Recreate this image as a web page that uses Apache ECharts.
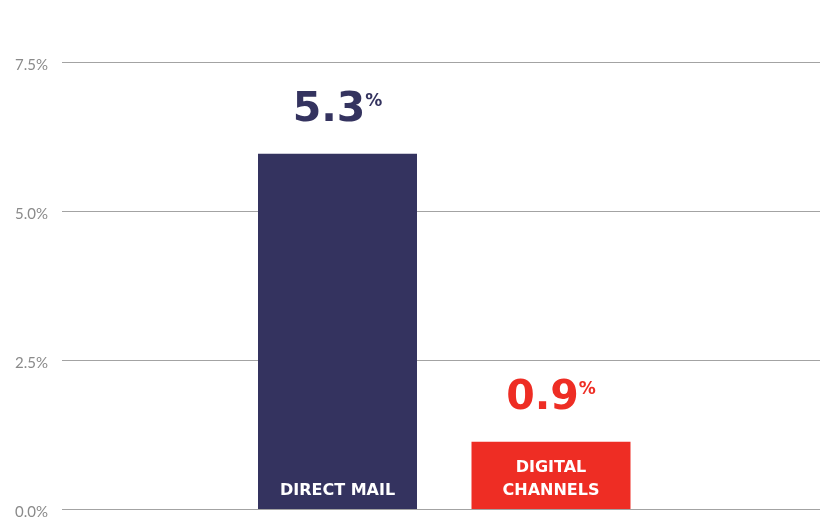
<!DOCTYPE html>
<html>
<head>
<meta charset="utf-8">
<script src="https://cdn.jsdelivr.net/npm/echarts@6/dist/echarts.min.js"></script>
<style>
  html, body { margin: 0; padding: 0; background: #fff; }
  #chart { width: 820px; height: 521px; }
</style>
</head>
<body>
<div id="chart"></div>
<script>
// categories and values
var channels = ['DIRECT MAIL', 'DIGITAL\nCHANNELS'];
var barHeights = [5.96, 1.13];      // drawn bar heights (%)
var rateLabels = ['5.3', '0.9'];    // printed response rates
var barColors = ['#34335f', '#ee2d24'];
var yTicks = [0, 2.5, 5.0, 7.5];

var myChart = echarts.init(document.getElementById('chart'));

var option = {
    animation: false,
    grid: [
        // gridlines + y labels
        { left: 62, right: 0, top: 62, bottom: 12 },
        // bars
        { left: 230.75, right: 162.25, top: 62, bottom: 12 }
    ],
    xAxis: [
        { gridIndex: 0, type: 'category', data: [''], show: false },
        {
            gridIndex: 1,
            type: 'category',
            data: channels,
            z: 10,
            axisLine: { show: false },
            axisTick: { show: false },
            axisLabel: {
                inside: true,
                margin: 7,
                color: '#ffffff',
                fontFamily: 'DejaVu Sans',
                fontWeight: 'bold',
                fontSize: 16,
                lineHeight: 23
            }
        }
    ],
    yAxis: [
        {
            gridIndex: 0,
            type: 'value',
            min: yTicks[0],
            max: yTicks[yTicks.length - 1],
            interval: 2.5,
            axisLine: { show: false },
            axisTick: { show: false },
            splitLine: { lineStyle: { color: '#a3a3a3', width: 1 } },
            axisLabel: {
                margin: 14,
                color: '#8a8a8a',
                fontFamily: 'Lato',
                fontSize: 15,
                verticalAlign: 'top',
                lineHeight: 6,
                formatter: function (v) { return v.toFixed(1) + '%'; }
            }
        },
        {
            gridIndex: 1,
            type: 'value',
            min: yTicks[0],
            max: yTicks[yTicks.length - 1],
            interval: 2.5,
            show: false
        }
    ],
    series: [{
        type: 'bar',
        xAxisIndex: 1,
        yAxisIndex: 1,
        barWidth: 159,
        data: barHeights.map(function (v, i) {
            return {
                value: v,
                itemStyle: { color: barColors[i] },
                label: {
                    formatter: '{a|' + rateLabels[i] + '}{b|%}',
                    rich: {
                        a: { color: barColors[i], fontSize: 41, fontWeight: 'bold', fontFamily: 'DejaVu Sans', lineHeight: 44 },
                        b: { color: barColors[i], fontSize: 17, fontWeight: 'bold', fontFamily: 'DejaVu Sans', verticalAlign: 'top', lineHeight: 44, padding: [4, 0, 0, 0] }
                    }
                }
            };
        }),
        label: { show: true, position: 'top', distance: 21 }
    }]
};

myChart.setOption(option);
</script>
</body>
</html>
